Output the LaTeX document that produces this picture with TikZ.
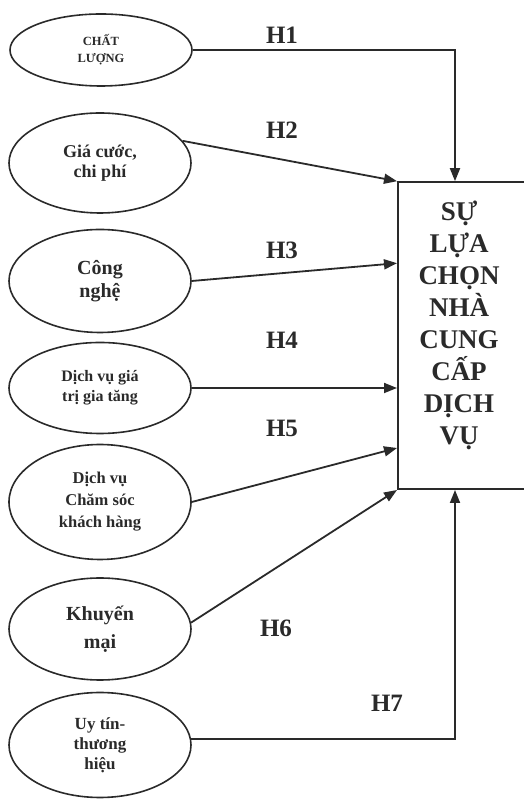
\documentclass[tikz,border=0pt]{standalone}
\usepackage{fontspec}
\setmainfont{Liberation Serif}
\usetikzlibrary{arrows.meta,shapes.geometric,calc}
\definecolor{ink}{HTML}{2A2A2A}
\begin{document}
\begin{tikzpicture}[x=1pt,y=1pt,
  ell/.style={ellipse,draw=ink,line width=1.6pt,minimum width=182pt,inner sep=0pt,align=center,text=ink},
  conn/.style={draw=ink,line width=1.8pt},
  arr/.style={conn,-{Triangle[length=13pt,width=10pt]}},
  hlab/.style={font=\fontsize{25}{25}\selectfont\bfseries,text=ink,inner sep=0pt}]
\useasboundingbox (0,0) rectangle (524,803);
% factors
\node[ell,minimum height=72pt,font=\fontsize{12.5}{17}\selectfont\bfseries] (e1) at (101,753) {CHẤT\\LƯỢNG};
\node[ell,minimum height=100pt,font=\fontsize{18}{20}\selectfont\bfseries] (e2) at (100,640) {Giá cước,\\chi phí};
\node[ell,minimum height=103pt,font=\fontsize{20}{23}\selectfont\bfseries] (e3) at (100,522) {Công\\nghệ};
\node[ell,minimum height=91pt,font=\fontsize{16}{20}\selectfont\bfseries] (e4) at (100,415) {Dịch vụ giá\\trị gia tăng};
\node[ell,minimum height=115pt,font=\fontsize{16.5}{22}\selectfont\bfseries] (e5) at (100,301) {Dịch vụ\\Chăm sóc\\khách hàng};
\node[ell,minimum height=102pt,font=\fontsize{20}{28}\selectfont\bfseries] (e6) at (100,174) {Khuyến\\mại};
\node[ell,minimum height=105pt,font=\fontsize{17}{20}\selectfont\bfseries] (e7) at (100,58) {Uy tín-\\thương\\hiệu};
% outcome box
\node[draw=ink,line width=1.8pt,minimum width=129pt,minimum height=307pt,inner sep=0pt,anchor=south west] (box) at (397,313) {};
\node[align=center,inner sep=0pt,text=ink,font=\fontsize{27}{32}\selectfont\bfseries] (bt) at (459,478) {SỰ\\LỰA\\CHỌN\\NHÀ\\CUNG\\CẤP\\DỊCH\\VỤ};
% helper coordinates on the box
\coordinate (t1) at ($(box.north west)+(58,0)$);
\coordinate (t7) at ($(box.south west)+(58,0)$);
\coordinate (w3) at ($(box.north west)+(0,-82)$);
\coordinate (w5) at ($(box.south west)+(0,42)$);
% connectors
\draw[arr] (e1.east) -| (t1);
\draw[arr] (e2.15) -- (box.north west);
\draw[arr] (e3.east) -- (w3);
\draw[arr] (e4.east) -- (box.west |- e4.east);
\draw[arr] (e5.east) -- (w5);
\draw[arr] (e6.4) -- (box.south west);
\draw[arr] (e7.4) -| (t7);
% labels
\node[hlab] (h1) at (282,768) {H1};
\node[hlab] (h2) at (282,673) {H2};
\node[hlab] (h3) at (282,553) {H3};
\node[hlab] (h4) at (282,463) {H4};
\node[hlab] (h5) at (282,375) {H5};
\node[hlab] (h6) at (276,175) {H6};
\node[hlab] (h7) at (387,100) {H7};
\end{tikzpicture}
\end{document}
